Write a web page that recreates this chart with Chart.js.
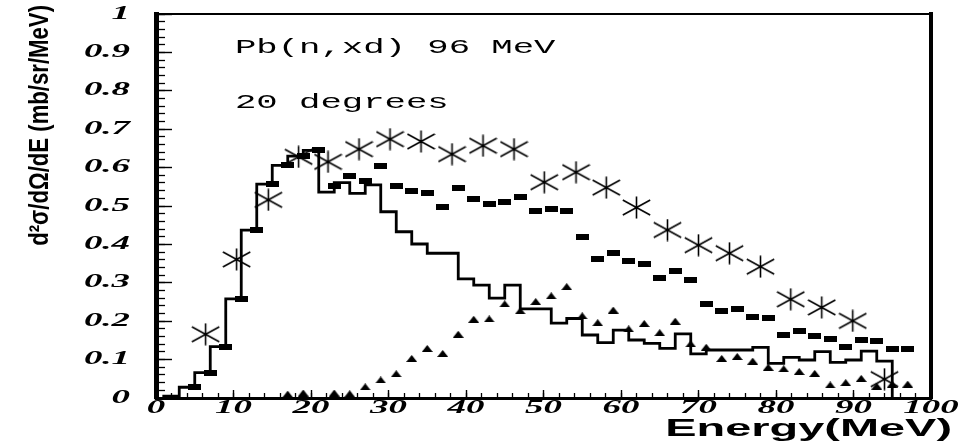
<!DOCTYPE html>
<html><head><meta charset="utf-8">
<script src="https://cdn.jsdelivr.net/npm/chart.js@4.4.1/dist/chart.umd.min.js"></script>
<style>
html,body{margin:0;padding:0;background:#fff;}
#wrap{position:relative;width:960px;height:443px;overflow:hidden;background:#fff;}
canvas{position:absolute;left:0;top:0;}
.note{position:absolute;left:235px;font-family:'Liberation Mono','DejaVu Sans Mono',monospace;font-size:20px;line-height:20px;white-space:nowrap;transform-origin:0 0;transform:scaleX(1.78);color:#000;}
</style></head>
<body><div id="wrap"><canvas id="c" width="960" height="443"></canvas>
<div class="note" style="top:38px">Pb(n,xd) 96 MeV</div>
<div class="note" style="top:93px">20 degrees</div></div>
<script>
// ---- data ----
const histEdges = [1,3,5,7,9,11,13,15,17,19,21,23,25,27,29,31,33,35,37,39,41,43,45,47,49,51,53,55,57,59,61,63,65,67,69,71,73,75,77,79,81,83,85,87,89,91,93,95];
const histValues = [0.005,0.028,0.066,0.134,0.258,0.437,0.557,0.606,0.630,0.645,0.536,0.561,0.533,0.555,0.485,0.433,0.401,0.377,0.377,0.310,0.294,0.260,0.294,0.232,0.232,0.195,0.207,0.164,0.144,0.177,0.151,0.142,0.129,0.167,0.115,0.125,0.125,0.125,0.132,0.090,0.106,0.099,0.121,0.093,0.099,0.122,0.096];

const squareEnergy = [5,7,9,11,13,15,17,19,21,23,25,27,29,31,33,35,37,39,41,43,45,47,49,51,53,55,57,59,61,63,65,67,69,71,73,75,77,79,81,83,85,87,89,91,93,95,97];
const squareValues = [0.028,0.066,0.134,0.258,0.437,0.557,0.606,0.630,0.645,0.552,0.578,0.565,0.604,0.552,0.540,0.535,0.498,0.546,0.517,0.505,0.510,0.524,0.487,0.492,0.487,0.418,0.362,0.378,0.358,0.349,0.313,0.331,0.307,0.246,0.227,0.231,0.210,0.209,0.164,0.174,0.162,0.153,0.134,0.151,0.149,0.127,0.127];

const triangleEnergy = [17,19,23,25,27,29,31,33,35,37,39,41,43,45,47,49,51,53,55,57,59,61,63,65,67,69,71,73,75,77,79,81,83,85,87,89,91,93,95,97];
const triangleValues = [0.010,0.013,0.013,0.011,0.029,0.047,0.063,0.103,0.129,0.116,0.166,0.205,0.206,0.245,0.227,0.251,0.266,0.290,0.214,0.196,0.229,0.180,0.194,0.170,0.200,0.141,0.132,0.103,0.108,0.096,0.080,0.076,0.069,0.064,0.034,0.040,0.051,0.031,0.036,0.036];

const starEnergy = [6.4,10.4,14.5,18.4,22.2,26.2,30.2,34.2,38.2,42.2,46.2,50.1,54.2,58.1,62.0,66.0,70.0,74.0,78.0,81.9,85.9,89.9,94.0];
const starValues = [0.166,0.361,0.516,0.628,0.615,0.648,0.674,0.668,0.635,0.657,0.648,0.562,0.588,0.548,0.496,0.4375,0.398,0.377,0.342,0.257,0.236,0.201,0.049];

const xTickLabels = ['0','10','20','30','40','50','60','70','80','90','100'];
const yTickLabels = ['0','0.1','0.2','0.3','0.4','0.5','0.6','0.7','0.8','0.9','1'];
const xTitle = 'Energy(MeV)';
const yTitle = 'd\u00B2\u03C3/d\u03A9/dE (mb/sr/MeV)';

// ---- markers ----
function makeMarker(w, h, draw) {
  const c = document.createElement('canvas');
  c.width = w; c.height = h;
  const g = c.getContext('2d');
  g.fillStyle = '#000'; g.strokeStyle = '#000';
  draw(g, w, h);
  return c;
}
const squareMarker = makeMarker(13, 6, (g, w, h) => g.fillRect(0, 0, w, h));
const triangleMarker = makeMarker(11, 7, (g, w, h) => {
  g.beginPath(); g.moveTo(0, h); g.lineTo(w / 2, 0); g.lineTo(w, h); g.closePath(); g.fill();
});
const starMarker = makeMarker(29, 23, (g, w, h) => {
  g.lineWidth = 1.6; g.beginPath();
  g.moveTo(w / 2, 0.5); g.lineTo(w / 2, h - 0.5);
  g.moveTo(0.8, 4); g.lineTo(w - 0.8, h - 4);
  g.moveTo(0.8, h - 4); g.lineTo(w - 0.8, 4);
  g.stroke();
});

const histData = [{x: histEdges[0], y: 0}];
histValues.forEach((v, i) => histData.push({x: histEdges[i], y: v}));
histData.push({x: histEdges[histEdges.length - 1], y: 0});
const pts = (xs, ys) => xs.map((x, i) => ({x, y: ys[i]}));

// ---- wide PAW-like lettering: stretch some texts horizontally ----
const stretchPlugin = {
  id: 'stretchText',
  beforeDraw(chart) {
    const ctx = chart.ctx;
    if (ctx._origFillText) return;
    const orig = ctx.fillText;
    ctx._origFillText = orig;
    ctx.fillText = function (text, x, y, maxWidth) {
      let sx = 1, dx = 0;
      if (text === xTitle) { sx = 2.04; dx = 21; }
      else if (text === yTitle) { sx = 0.82; dx = 9; }
      else if (/Serif/.test(this.font)) { sx = 2.05; }
      if (sx === 1 && dx === 0) {
        return maxWidth === undefined ? orig.call(this, text, x, y) : orig.call(this, text, x, y, maxWidth);
      }
      this.save();
      this.translate(x + dx, y);
      this.scale(sx, 1);
      if (maxWidth === undefined) orig.call(this, text, 0, 0); else orig.call(this, text, 0, 0, maxWidth / sx);
      this.restore();
    };
  }
};

const tickFont = {family: "'Liberation Serif', 'Times New Roman', serif", size: 18, style: 'italic', weight: 'bold'};
const black = '#000';
const noPad = (s) => { s.paddingTop = 0; s.paddingBottom = 0; s.paddingLeft = 0; s.paddingRight = 0; };

new Chart(document.getElementById('c'), {
  type: 'scatter',
  data: {
    datasets: [
      {type: 'line', data: histData, borderColor: black, borderWidth: 2.8, pointRadius: 0, stepped: 'before', fill: false, xAxisID: 'x', yAxisID: 'y'},
      {data: pts(squareEnergy, squareValues), pointStyle: squareMarker, pointRadius: 4, showLine: false, xAxisID: 'x', yAxisID: 'y'},
      {data: pts(triangleEnergy, triangleValues), pointStyle: triangleMarker, pointRadius: 4, showLine: false, xAxisID: 'x', yAxisID: 'y'},
      {data: pts(starEnergy, starValues), pointStyle: starMarker, pointRadius: 4, showLine: false, xAxisID: 'x', yAxisID: 'y'}
    ]
  },
  options: {
    responsive: false, animation: false, devicePixelRatio: 1,
    layout: {padding: {left: 0, top: 14, right: 29, bottom: 0}},
    plugins: {legend: {display: false}, tooltip: {enabled: false}},
    scales: {
      x: {
        type: 'linear', position: 'bottom', min: 0, max: 100, weight: 0,
        ticks: {stepSize: 10, padding: 8, color: black, font: tickFont, maxRotation: 0, autoSkip: false, callback: (v, i) => xTickLabels[i]},
        grid: {display: true, drawOnChartArea: false, drawTicks: true, tickLength: -8, tickWidth: 1.4, tickColor: black},
        border: {display: true, color: black, width: 3},
        title: {display: true, text: xTitle, align: 'end', color: black, font: {family: "'Liberation Sans', Arial, sans-serif", size: 23, weight: 'bold'}, padding: {top: 0, bottom: 0}},
        afterFit: (s) => { s.height = 45; noPad(s); }
      },
      xMinor: {
        type: 'linear', position: 'bottom', min: 0, max: 100, weight: -1,
        ticks: {display: false, stepSize: 2, maxTicksLimit: 100},
        grid: {display: true, drawOnChartArea: false, drawTicks: true, tickLength: -5, tickWidth: 1.3, tickColor: black},
        border: {display: false},
        afterFit: (s) => { s.height = 0; noPad(s); }
      },
      xTop: {
        type: 'linear', position: 'top', min: 0, max: 100,
        ticks: {display: false}, grid: {display: false},
        border: {display: true, color: black, width: 2},
        afterFit: (s) => { s.height = 0; noPad(s); }
      },
      y: {
        type: 'linear', position: 'left', min: 0, max: 1, weight: 0,
        ticks: {stepSize: 0.1, padding: 42, color: black, font: tickFont, autoSkip: false, callback: (v, i) => yTickLabels[i]},
        grid: {display: true, drawOnChartArea: false, drawTicks: true, tickLength: -16, tickWidth: 1.4, tickColor: black},
        border: {display: true, color: black, width: 5},
        title: {display: true, text: yTitle, align: 'end', color: black, font: {family: "'Liberation Sans', Arial, sans-serif", size: 27, weight: 'bold'}, padding: {top: 24, bottom: 0}},
        afterFit: (s) => { s.width = 156; noPad(s); }
      },
      yMinor: {
        type: 'linear', position: 'left', min: 0, max: 1, weight: -1,
        ticks: {display: false, stepSize: 0.02, maxTicksLimit: 100},
        grid: {display: true, drawOnChartArea: false, drawTicks: true, tickLength: -9, tickWidth: 1.3, tickColor: black},
        border: {display: false},
        afterFit: (s) => { s.width = 0; noPad(s); }
      },
      yRight: {
        type: 'linear', position: 'right', min: 0, max: 1,
        ticks: {display: false}, grid: {display: false},
        border: {display: true, color: black, width: 4},
        afterFit: (s) => { s.width = 0; noPad(s); }
      }
    }
  },
  plugins: [stretchPlugin]
});
</script></body></html>
